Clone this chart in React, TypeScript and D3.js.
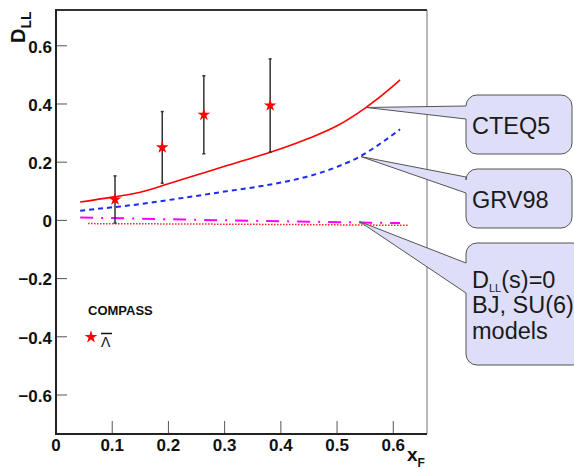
import React, { useEffect, useRef } from 'react';
import * as d3 from 'd3';

// axis ticks
const xTicks = [0, 0.1, 0.2, 0.3, 0.4, 0.5, 0.6];
const yTicks = [-0.6, -0.4, -0.2, 0, 0.2, 0.4, 0.6];

// COMPASS Lambda-bar points
const pointX = [0.105, 0.189, 0.263, 0.381];
const pointY = [0.072, 0.251, 0.363, 0.395];
const pointErr = [0.081, 0.123, 0.134, 0.16];

// model curves
const cteqX = [0.043, 0.1, 0.15, 0.2, 0.25, 0.3, 0.35, 0.4, 0.45, 0.5, 0.55, 0.6, 0.612];
const cteqY = [0.063, 0.08, 0.097, 0.126, 0.156, 0.186, 0.215, 0.246, 0.282, 0.325, 0.386, 0.462, 0.483];
const grvX = [0.043, 0.1, 0.15, 0.2, 0.25, 0.3, 0.35, 0.4, 0.45, 0.5, 0.54, 0.58, 0.612];
const grvY = [0.033, 0.045, 0.056, 0.07, 0.084, 0.099, 0.113, 0.13, 0.152, 0.184, 0.219, 0.268, 0.313];
const bjX = [0.043, 0.2, 0.4, 0.612];
const bjY = [0.01, 0.004, -0.003, -0.009];
const su6X = [0.057, 0.3, 0.626];
const su6Y = [-0.011, -0.013, -0.017];

// callout labels and where they point (data coords)
const calloutLabels = [['CTEQ5'], ['GRV98'], ['D_LL(s)=0', 'BJ, SU(6)', 'models']];
const calloutTipX = [0.552, 0.543, 0.54];
const calloutTipY = [0.388, 0.219, -0.004];

const W = 574;
const H = 469;
const FONT = '"Liberation Sans", Arial, sans-serif';

function calloutPath(x: number, y: number, w: number, h: number, r: number, tx: number, ty: number, b1: number, b2: number) {
    return (
        `M${x + r},${y} H${x + w - r} A${r},${r} 0 0 1 ${x + w},${y + r}` +
        ` V${y + h - r} A${r},${r} 0 0 1 ${x + w - r},${y + h}` +
        ` H${x + r} A${r},${r} 0 0 1 ${x},${y + h - r}` +
        ` V${b2} L${tx},${ty} L${x},${b1} V${y + r} A${r},${r} 0 0 1 ${x + r},${y} Z`
    );
}

export default function App() {
    const ref = useRef<SVGSVGElement>(null);

    useEffect(() => {
        const svg = d3.select(ref.current);
        svg.selectAll('*').remove();

        const x = d3.scaleLinear().domain([0, 0.66]).range([56, 427]);
        const y = d3.scaleLinear().domain([-0.734, 0.723]).range([434, 10]);
        const x0 = x.range()[0];
        const x1 = x.range()[1];
        const yb = y.range()[0];
        const yt = y.range()[1];

        svg.append('rect').attr('width', W).attr('height', H).attr('fill', '#fff');

        // frame
        svg.append('line').attr('x1', x1).attr('x2', x1).attr('y1', yt).attr('y2', yb)
            .attr('stroke', '#888').attr('stroke-width', 1.2);
        svg.append('line').attr('x1', x0).attr('x2', x1).attr('y1', yt).attr('y2', yt)
            .attr('stroke', '#333').attr('stroke-width', 2);

        // ticks
        svg.append('g').selectAll('line').data(yTicks).join('line')
            .attr('x1', x0).attr('x2', x0 + 11)
            .attr('y1', (d) => y(d)).attr('y2', (d) => y(d))
            .attr('stroke', '#555').attr('stroke-width', 1);
        svg.append('g').selectAll('line').data(xTicks).join('line')
            .attr('x1', (d) => x(d)).attr('x2', (d) => x(d))
            .attr('y1', yb).attr('y2', yb - 13)
            .attr('stroke', '#555').attr('stroke-width', 1);

        svg.append('line').attr('x1', x0).attr('x2', x0).attr('y1', yt - 1).attr('y2', yb + 1)
            .attr('stroke', '#222').attr('stroke-width', 2);
        svg.append('line').attr('x1', x0 - 1).attr('x2', x1).attr('y1', yb).attr('y2', yb)
            .attr('stroke', '#222').attr('stroke-width', 2);

        // tick labels
        svg.append('g').selectAll('text').data(yTicks).join('text')
            .attr('x', x0 - 4).attr('y', (d) => y(d)).attr('dy', '0.4em')
            .attr('text-anchor', 'end')
            .attr('font-family', FONT).attr('font-weight', 'bold').attr('font-size', 17)
            .attr('fill', '#111')
            .text((d) => (d === 0 ? '0' : d3.format('.1f')(d)));
        svg.append('g').selectAll('text').data(xTicks).join('text')
            .attr('x', (d) => x(d)).attr('y', yb + 17)
            .attr('text-anchor', 'middle')
            .attr('font-family', FONT).attr('font-weight', 'bold').attr('font-size', 17)
            .attr('fill', '#111')
            .text((d) => (d === 0 ? '0' : d3.format('.1f')(d)));

        // axis titles
        const yt1 = svg.append('text')
            .attr('transform', 'translate(25,43) rotate(-90)')
            .attr('font-family', FONT).attr('font-weight', 'bold').attr('font-size', 20).attr('fill', '#111');
        yt1.append('tspan').text('D');
        yt1.append('tspan').attr('font-size', 14).attr('dy', 6).text('LL');

        const xt = svg.append('text')
            .attr('x', 407).attr('y', 461)
            .attr('font-family', FONT).attr('font-weight', 'bold').attr('font-size', 19).attr('fill', '#111');
        xt.append('tspan').text('x');
        xt.append('tspan').attr('font-size', 12).attr('dy', 6).text('F');

        // curves
        const line = (xs: number[], ys: number[]) =>
            d3.line<number>().x((d, i) => x(xs[i])).y((d) => y(d)).curve(d3.curveMonotoneX)(ys);

        svg.append('path').attr('d', line(su6X, su6Y)).attr('fill', 'none')
            .attr('stroke', '#ff2020').attr('stroke-width', 1.5).attr('stroke-dasharray', '1.5,1.5');
        svg.append('path').attr('d', line(bjX, bjY)).attr('fill', 'none')
            .attr('stroke', '#ff00ff').attr('stroke-width', 2).attr('stroke-dasharray', '13,8,2,8');
        svg.append('path').attr('d', line(grvX, grvY)).attr('fill', 'none')
            .attr('stroke', '#1a2cf0').attr('stroke-width', 2).attr('stroke-dasharray', '5,4');
        svg.append('path').attr('d', line(cteqX, cteqY)).attr('fill', 'none')
            .attr('stroke', '#ff0000').attr('stroke-width', 1.6);

        // error bars
        const eb = svg.append('g').attr('stroke', '#333').attr('stroke-width', 1.5);
        pointX.forEach((px, i) => {
            const cx = x(px);
            const top = y(pointY[i] + pointErr[i]);
            const bot = y(pointY[i] - pointErr[i]);
            eb.append('line').attr('x1', cx).attr('x2', cx).attr('y1', top).attr('y2', bot);
            eb.append('line').attr('x1', cx - 1.5).attr('x2', cx + 1.5).attr('y1', top).attr('y2', top);
            eb.append('line').attr('x1', cx - 1.5).attr('x2', cx + 1.5).attr('y1', bot).attr('y2', bot);
        });

        const star = d3.symbol().type(d3.symbolStar).size(50);
        svg.append('g').selectAll('path').data(pointX).join('path')
            .attr('transform', (d, i) => `translate(${x(d)},${y(pointY[i])})`)
            .attr('d', star())
            .attr('fill', '#ff0000');

        // legend
        svg.append('text').attr('x', 88).attr('y', 315)
            .attr('font-family', FONT).attr('font-weight', 'bold').attr('font-size', 13).attr('fill', '#111')
            .text('COMPASS');
        svg.append('path').attr('transform', 'translate(91,337)').attr('d', star()).attr('fill', '#ff0000');
        svg.append('text').attr('x', 101).attr('y', 347)
            .attr('font-family', FONT).attr('font-size', 14).attr('fill', '#111')
            .text('Λ');
        svg.append('line').attr('x1', 101).attr('x2', 112).attr('y1', 333.5).attr('y2', 333.5)
            .attr('stroke', '#111').attr('stroke-width', 1.5);

        // callouts
        const boxes = [
            { bx: 466, by: 95, bw: 106, bh: 59, b1: 106, b2: 119 },
            { bx: 466, by: 169, bw: 106, bh: 59, b1: 177, b2: 193 },
            { bx: 466, by: 243, bw: 118, bh: 122, b1: 263, b2: 293 },
        ];
        boxes.forEach((b, i) => {
            svg.append('path')
                .attr('d', calloutPath(b.bx, b.by, b.bw, b.bh, 11, x(calloutTipX[i]), y(calloutTipY[i]), b.b1, b.b2))
                .attr('fill', '#dedef8').attr('stroke', '#555').attr('stroke-width', 1);
            const lines = calloutLabels[i];
            const startY = b.by + b.bh / 2 - ((lines.length - 1) * 25.5) / 2 + 9;
            lines.forEach((t, j) => {
                const tx = svg.append('text')
                    .attr('x', b.bx + 6).attr('y', startY + j * 25.5)
                    .attr('font-family', FONT).attr('font-size', 23.5).attr('fill', '#1a1a1a');
                if (t.startsWith('D_LL')) {
                    tx.append('tspan').text('D');
                    tx.append('tspan').attr('font-size', 11).attr('dy', 4).text('LL');
                    tx.append('tspan').attr('dy', -4).text(t.slice(4));
                } else {
                    tx.text(t);
                }
            });
        });
    }, []);

    return (
        <svg
            ref={ref}
            width={W}
            height={H}
            style={{ position: 'absolute', left: 0, top: 0, display: 'block' }}
        />
    );
}
